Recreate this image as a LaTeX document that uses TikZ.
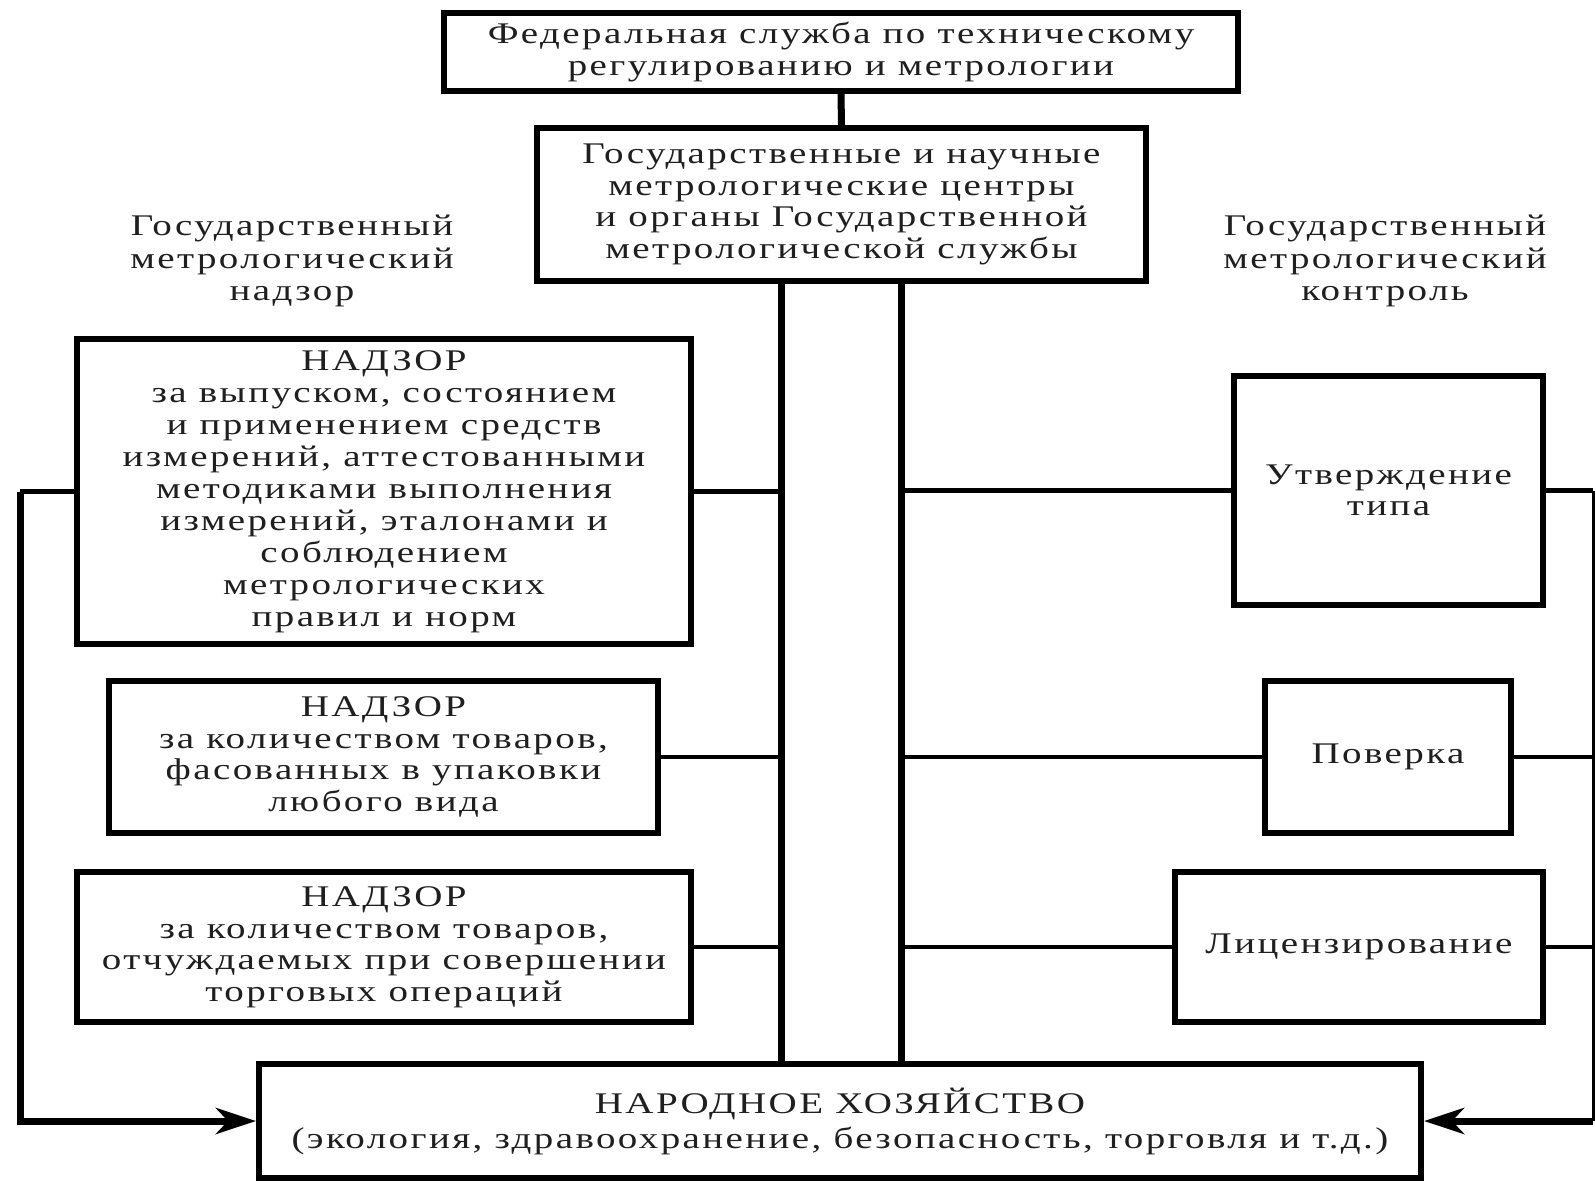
\documentclass[tikz,border=0pt]{standalone}
\usepackage{fontspec}
\setmainfont{Liberation Serif}[FakeStretch=1.3,LetterSpace=8]
\usetikzlibrary{arrows.meta}
\begin{document}
\begin{tikzpicture}[x=1pt,y=-1pt,
  box/.style={draw,line width=6pt,align=center,inner sep=0pt,
    font=\fontsize{30}{31.5}\selectfont,text=black!88},
  lbl/.style={align=center,inner sep=0pt,font=\fontsize{30}{32.5}\selectfont,text=black!88},
  conn/.style={line width=4.5pt},
  bus/.style={line width=7pt},
  arr/.style={line width=7pt,-{Stealth[length=40pt,width=26pt,inset=12pt]}}]
\fill[white] (0,0) rectangle (1595,1182);
\useasboundingbox (0,0) rectangle (1595,1182);

\node[box,minimum width=794pt,minimum height=78pt] (top) at (841,52)
  {Федеральная служба по техническому\\регулированию и метрологии};
\node[box,minimum width=609pt,minimum height=153pt] (b2) at (841.5,204.5)
  {Государственные и научные\\метрологические центры\\и органы Государственной\\метрологической службы};

\node[lbl] (ln) at (292,261) {Государственный\\метрологический\\надзор};
\node[lbl] (rn) at (1385,261) {Государственный\\метрологический\\контроль};

\node[box,minimum width=614pt,minimum height=305pt,font=\fontsize{30}{32}\selectfont] (L1) at (384,491.5)
  {НАДЗОР\\за выпуском, состоянием\\и применением средств\\измерений, аттестованными\\методиками выполнения\\измерений, эталонами и\\соблюдением\\метрологических\\правил и норм};
\node[box,minimum width=549pt,minimum height=152pt] (L2) at (383.5,757)
  {НАДЗОР\\за количеством товаров,\\фасованных в упаковки\\любого вида};
\node[box,minimum width=614pt,minimum height=150pt] (L3) at (384,947)
  {НАДЗОР\\за количеством товаров,\\отчуждаемых при совершении\\торговых операций};

\node[box,minimum width=309pt,minimum height=229pt] (R1) at (1388.5,490.5)
  {Утверждение\\типа};
\node[box,minimum width=246pt,minimum height=152pt] (R2) at (1388,757)
  {Поверка};
\node[box,minimum width=368pt,minimum height=150pt] (R3) at (1359,947)
  {Лицензирование};

\node[box,minimum width=1162pt,minimum height=114pt,font=\fontsize{30}{35}\selectfont] (bot) at (840,1121)
  {НАРОДНОЕ ХОЗЯЙСТВО\\(экология, здравоохранение, безопасность, торговля и т.д.)};

\coordinate (vl) at (781,300);
\coordinate (vr) at (901,300);
\coordinate (lb) at (20,300);
\coordinate (rb) at (1593,300);

\draw[bus] (top.south) -- (b2.north);
\draw[bus] (b2.south -| vl) -- (bot.north -| vl);
\draw[bus] (b2.south -| vr) -- (bot.north -| vr);

\draw[conn] (L1.east) -- (L1.east -| vl);
\draw[conn] (L2.east) -- (L2.east -| vl);
\draw[conn] (L3.east) -- (L3.east -| vl);
\draw[conn] (R1.west -| vr) -- (R1.west);
\draw[conn] (R2.west -| vr) -- (R2.west);
\draw[conn] (R3.west -| vr) -- (R3.west);

\draw[conn] (L1.west) -- (L1.west -| lb);
\draw[arr] (L1.west -| lb) |- (bot.west);

\draw[conn] (R1.east) -- (R1.east -| rb);
\draw[conn] (R2.east) -- (R2.east -| rb);
\draw[conn] (R3.east) -- (R3.east -| rb);
\draw[line width=3pt] (R1.east -| rb) -- (bot.east -| rb);
\draw[arr] (bot.east -| rb) -- (bot.east);
\end{tikzpicture}
\end{document}
